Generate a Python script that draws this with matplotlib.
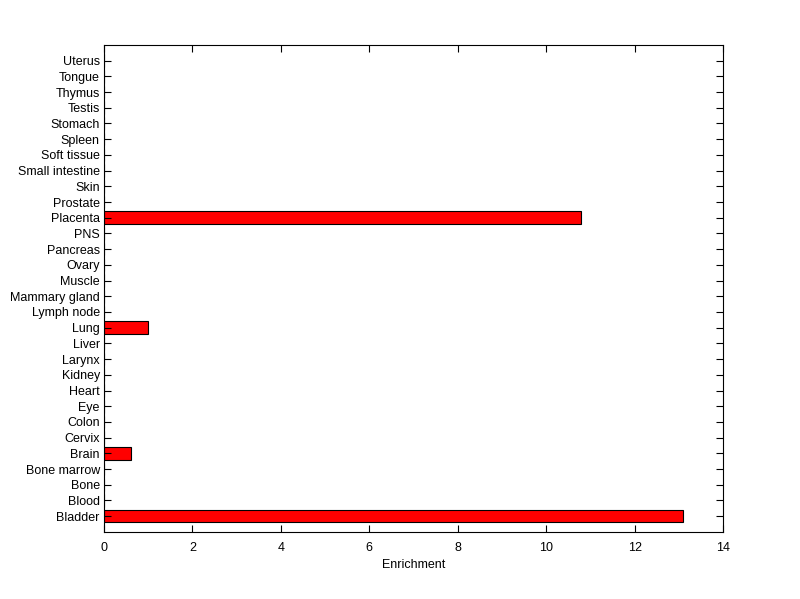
import numpy as np
import matplotlib.pyplot as plt

tissues = ["Bladder", "Blood", "Bone", "Bone marrow", "Brain", "Cervix", "Colon",
           "Eye", "Heart", "Kidney", "Larynx", "Liver", "Lung", "Lymph node",
           "Mammary gland", "Muscle", "Ovary", "Pancreas", "PNS", "Placenta",
           "Prostate", "Skin", "Small intestine", "Soft tissue", "Spleen",
           "Stomach", "Testis", "Thymus", "Tongue", "Uterus"]
enrichment = [13.1, 0, 0, 0, 0.6, 0, 0, 0, 0, 0, 0, 0, 1.0, 0, 0, 0, 0, 0, 0,
              10.78, 0, 0, 0, 0, 0, 0, 0, 0, 0, 0]
xticks = [0, 2, 4, 6, 8, 10, 12, 14]

plt.rcParams['font.family'] = ['Liberation Sans', 'DejaVu Sans']
plt.rcParams['font.size'] = 9

fig = plt.figure(figsize=(8, 5.99), dpi=100)
ax = fig.add_axes([0.13, 0.112, 0.774, 0.813])

pos = np.arange(1, len(tissues) + 1)
ax.barh(pos, enrichment, height=0.8, color='red', edgecolor='black', linewidth=0.8)

ax.set_xlim(0, 14)
ax.set_ylim(0, len(tissues) + 1)
ax.set_xticks(xticks)
ax.set_yticks(pos)
ax.set_yticklabels(tissues)
ax.set_xlabel("Enrichment", labelpad=4)

ax.tick_params(direction='in', top=True, right=True, length=5, width=0.8)
ax.tick_params(axis='x', pad=7)
ax.tick_params(axis='y', pad=3)
for s in ax.spines.values():
    s.set_linewidth(0.8)

fig.savefig("out.png", dpi=100)
